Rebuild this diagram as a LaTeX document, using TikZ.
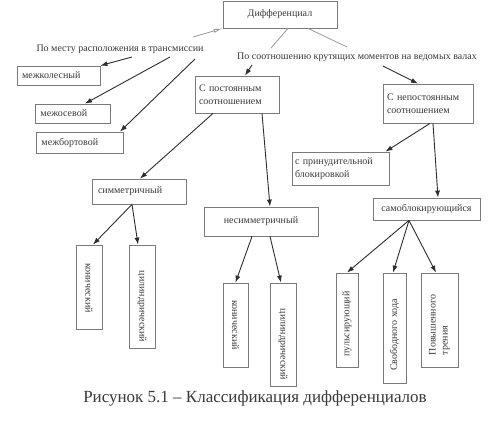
\documentclass[tikz,border=0pt]{standalone}
\usepackage{fontspec}
\setmainfont{Liberation Serif}
\usetikzlibrary{arrows.meta,calc}
\definecolor{boxgray}{HTML}{7A7A7A}
\definecolor{txt}{HTML}{3A3A3A}
\definecolor{arrcol}{HTML}{2E2E2E}
\definecolor{thingray}{HTML}{9A9A9A}
\begin{document}
\begin{tikzpicture}[x=1pt,y=-1pt,
  box/.style={draw=boxgray, line width=0.8pt, rectangle, inner sep=0pt, font=\fontsize{10}{12.5}\selectfont, text=txt},
  lbox/.style={box, inner xsep=5pt, inner ysep=0pt, align=left},
  cbox/.style={box, align=center},
  vtext/.style={inner sep=0pt, font=\fontsize{10}{12}\selectfont, text=txt, align=left},
  lab/.style={inner sep=0pt, font=\fontsize{10}{12}\selectfont, text=txt},
  capt/.style={inner sep=0pt, font=\fontsize{17}{20}\selectfont, text=txt},
  arr/.style={draw=arrcol, line width=0.9pt, -{Latex[length=7pt,width=5pt]}},
  greyline/.style={draw=thingray, line width=0.8pt}]
\useasboundingbox[fill=white] (0,0) rectangle (499,436);

% boxes
\node[cbox, minimum width=114pt, minimum height=27pt] (dif) at (280,14.5) {Дифференциал};
\node[lbox, text width=73pt, minimum height=19pt] (mezhkol) at (58.5,75.5) {межколесный};
\node[lbox, text width=64pt, inner xsep=5.5pt, minimum height=19pt] (mezhos) at (72.5,113.5) {межосевой};
\node[lbox, text width=76pt, inner xsep=5.5pt, minimum height=21pt] (mezhbort) at (79.5,142.5) {межбортовой};
\node[lbox, text width=76pt, inner xsep=4pt, minimum height=37pt] (spost) at (237,94.5) {С постоянным\\соотношением};
\node[lbox, text width=82pt, inner xsep=4pt, minimum height=39pt] (snepost) at (428,103.5) {С непостоянным\\соотношением};
\node[lbox, text width=91pt, inner xsep=3pt, minimum height=33pt] (sprin) at (340.5,168.5) {с принудительной\\блокировкой};
\node[lbox, text width=82pt, inner xsep=6pt, minimum height=25pt] (sym) at (139,191.5) {симметричный};
\node[cbox, minimum width=114pt, minimum height=29pt] (nonsym) at (261,221.5) {несимметричный};
\node[cbox, minimum width=107pt, minimum height=22pt] (samobl) at (426.5,209) {самоблокирующийся};

% vertical boxes
\node[box, minimum width=26pt, minimum height=84pt] (kon1) at (89,287) {};
\node[box, minimum width=26pt, minimum height=103pt] (cyl1) at (142,296.5) {};
\node[box, minimum width=25pt, minimum height=84pt] (kon2) at (235.5,325) {};
\node[box, minimum width=26pt, minimum height=103pt] (cyl2) at (283,334.5) {};
\node[box, minimum width=22pt, minimum height=94pt] (puls) at (347,320) {};
\node[box, minimum width=23pt, minimum height=110pt] (svob) at (394.5,328) {};
\node[box, minimum width=37pt, minimum height=94pt] (povysh) at (439.5,320) {};

\node[vtext, rotate=-90] (kon1t) at ([yshift=-1pt]kon1.center) {конический};
\node[vtext, rotate=-90] (cyl1t) at ([yshift=-10pt]cyl1.center) {цилиндрический};
\node[vtext, rotate=-90] (kon2t) at (kon2.center) {конический};
\node[vtext, rotate=-90] (cyl2t) at ([yshift=-10pt]cyl2.center) {цилиндрический};
\node[vtext, rotate=90] (pulst) at ([yshift=-4pt]puls.center) {пульсирующий};
\node[vtext, rotate=90] (svobt) at ([yshift=-7pt]svob.center) {Свободного хода};
\node[vtext, rotate=90] (povysht) at ([yshift=-5pt]povysh.center) {Повышенного\\трения};

% labels
\node[lab] (lab1) at (120,49) {По месту расположения в трансмиссии};
\node[lab] (lab2) at (357,57) {По соотношению крутящих моментов на ведомых валах};
\node[capt] (cap) at (255,398) {Рисунок 5.1 – Классификация дифференциалов};

% free ends
\coordinate (c0) at (193,37);
\coordinate (c1) at (271,48);
\coordinate (c2) at (347,47);
\coordinate (a1) at (132,57);
\coordinate (a2) at (170,57);
\coordinate (a3) at (195,59);
\coordinate (b1) at (252,65);
\coordinate (b2) at (383,66);

% connectors
\draw[greyline, -{Latex[open,length=9pt,width=4pt]}] (c0) -- (dif.south west);
\draw[greyline] ([xshift=8pt]dif.south) -- (c1);
\draw[greyline] ([xshift=28pt]dif.south) -- (c2);
\draw[arr] (a1) -- (mezhkol.north east);
\draw[arr] (a2) -- ([xshift=12.5pt]mezhos.north);
\draw[arr] (a3) -- ([xshift=40.5pt]mezhbort.north);
\draw[arr] (b1) -- ([xshift=8pt]spost.north);
\draw[arr] (b2) -- ([xshift=-10pt]snepost.north);
\draw[arr] ([xshift=-24pt]spost.south) -- ([xshift=1pt]sym.north);
\draw[arr] ([xshift=25pt]spost.south) -- ([xshift=9pt]nonsym.north);
\draw[arr] ([xshift=2pt]snepost.south) -- ([xshift=45pt]sprin.north);
\draw[arr] ([xshift=5pt]snepost.south) -- ([xshift=11.5pt]samobl.north);
\draw[arr] ([xshift=-7pt]sym.south) -- ([xshift=4pt]kon1.north);
\draw[arr] ([xshift=-7pt]sym.south) -- ([xshift=-4pt]cyl1.north);
\draw[arr] ([xshift=-9pt]nonsym.south) -- (kon2.north);
\draw[arr] ([xshift=9pt]nonsym.south) -- ([xshift=-2pt]cyl2.north);
\draw[arr] ([xshift=-17.5pt]samobl.south) -- (puls.north);
\draw[arr] ([xshift=-17.5pt]samobl.south) -- ([xshift=-1.5pt]svob.north);
\draw[arr] ([xshift=-17.5pt]samobl.south) -- ([xshift=-3.5pt]povysh.north);
\end{tikzpicture}
\end{document}
